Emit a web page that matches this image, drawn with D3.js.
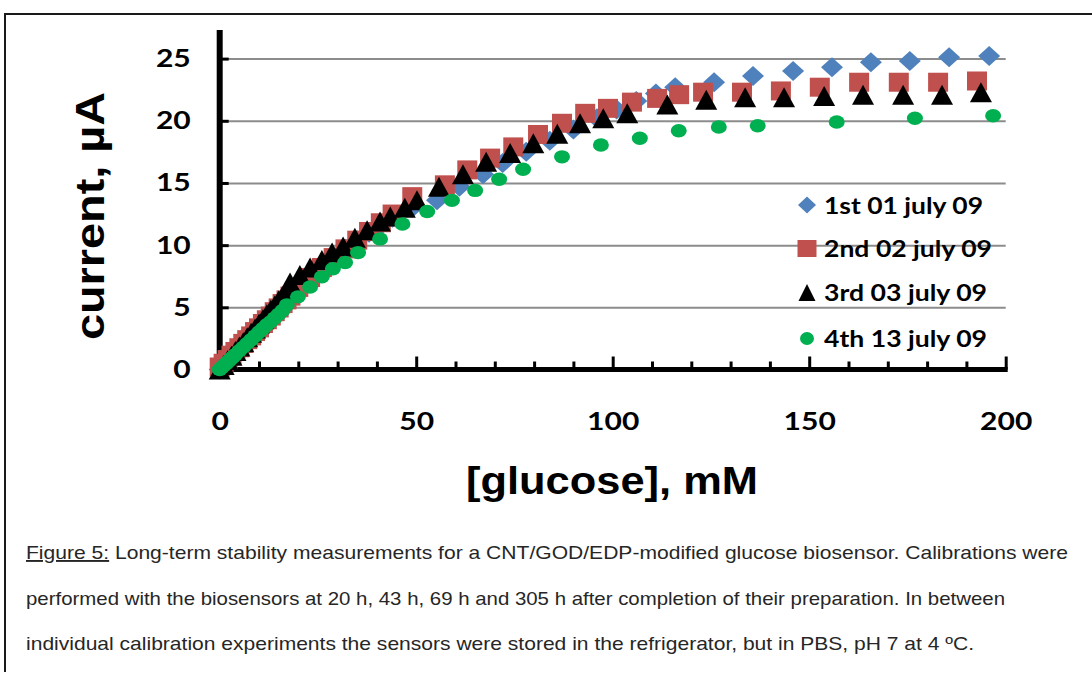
<!DOCTYPE html>
<html><head><meta charset="utf-8">
<script src="https://cdn.jsdelivr.net/npm/d3@7"></script>
<style>
html,body{margin:0;padding:0;background:#fff;}
svg{display:block;}
</style></head><body>
<svg id="chart" width="1092" height="675"></svg>
<script>
// Calibration runs: [glucose mM, current µA]
const seriesNames = ["1st 01 july 09", "2nd 02 july 09", "3rd 03 july 09", "4th 13 july 09"];
const xTicks = [0, 50, 100, 150, 200];
const yTicks = [0, 5, 10, 15, 20, 25];

const run1 = [[0,0],[1,0.3],[2,0.65],[3,1.0],[4,1.35],[5,1.7],[6,2.05],[7,2.4],[8,2.75],[9,3.05],[10,3.4],[11,3.75],[12,4.1],[13,4.4],[14,4.75],[15,5.1],[16,5.45],[17,5.8],[18,6.1],
  [20.5,6.7],[23,7.5],[26,8.3],[29,9.0],[32,9.7],[35,10.4],[38,11.0],[41,11.6],[44,12.2],[49,13.0],[55.3,13.6],[61,14.7],[67,15.7],[72,16.6],[78,17.5],[84,18.4],[90,19.3],[96,20.2],[101,20.9],[106,21.6],[111,22.2],[115.9,22.7],
  [125.8,23.1],[135.7,23.6],[145.9,24.0],[155.8,24.3],[165.7,24.7],[175.6,24.8],[185.6,25.1],[195.8,25.2]];

const run2 = [[0,0.2],[1,0.5],[2,0.8],[3,1.15],[4,1.45],[5,1.75],[6,2.1],[7,2.4],[8,2.7],[9,3.05],[10,3.35],[11,3.7],[12,4.0],[13,4.3],[14,4.65],[15,4.95],[16,5.3],[17,5.6],[18,5.9],
  [20,6.6],[23,7.4],[26,8.2],[29,9.0],[32,9.7],[35,10.4],[38,11.1],[41,11.8],[44,12.5],[49,13.9],[57.3,14.85],[63,16.05],[68.8,17.0],[74.7,17.9],[81,18.9],[87.1,19.8],[93,20.6],[98.8,21.0],[104.9,21.5],[111.3,21.8],[116.9,22.1],
  [123,22.3],[132.9,22.3],[142.8,22.4],[152.7,22.7],[162.7,23.1],[172.8,23.1],[182.8,23.1],[192.7,23.2]];

const run3 = [[0,0],[1,0.37],[2,0.74],[3,1.1],[4,1.48],[5,1.85],[6,2.2],[7,2.6],[8,2.95],[9,3.3],[10,3.7],[11,4.05],[12,4.45],[13,4.8],[14,5.15],[15,5.55],[16,5.9],[17,6.3],
  [17.9,7.0],[20.4,7.6],[23,8.2],[26,8.8],[28.6,9.4],[31.4,9.9],[34.4,10.6],[37.5,11.2],[40.8,11.9],[43.4,12.3],[47.1,13.0],[50.2,13.6],[55.8,14.7],[61.9,15.7],[67.8,16.7],[73.9,17.4],[79.8,18.2],[85.9,18.95],[91.7,19.8],[97.6,20.2],[103.7,20.6],[113.9,21.3],
  [123.8,21.7],[133.7,21.9],[143.6,21.9],[153.8,22.0],[163.7,22.1],[173.9,22.1],[183.8,22.1],[193.7,22.3]];

const run4 = [[0,0],[0.5,0.15],[1,0.3],[1.5,0.45],[2,0.6],[2.5,0.75],[3,0.9],[3.5,1.05],[4,1.2],[5,1.5],[6,1.8],[7,2.1],[8,2.4],[9,2.7],[10,3.0],[11,3.3],[12,3.6],[13,3.85],[14,4.15],[15,4.45],[16,4.75],[17.1,5.2],
  [19.9,5.84],[23,6.64],[26,7.45],[28.8,8.1],[31.9,8.6],[35.2,9.4],[40.8,10.5],[46.5,11.7],[52.8,12.7],[59.1,13.6],[65,14.4],[71.1,15.3],[77.2,16.1],[87.1,17.1],[97,18.05],[106.9,18.6],[116.8,19.2],
  [127,19.5],[136.9,19.6],[157,19.9],[176.9,20.2],[196.8,20.4]];

const captionLines = [
  "Long-term stability measurements for a CNT/GOD/EDP-modified glucose biosensor. Calibrations were",
  "performed with the biosensors at 20 h, 43 h, 69 h and 305 h after completion of their preparation. In between",
  "individual calibration experiments the sensors were stored in the refrigerator, but in PBS, pH 7 at 4 ºC."
];

const svg = d3.select("#chart");
const x = d3.scaleLinear().domain([0, 200]).range([219.7, 1005.7]);
const y = d3.scaleLinear().domain([0, 27.3]).range([369.5, 30]);

// set a text element to an exact rendered width
function fitWidth(sel, width) {
  sel.each(function () {
    if (this.getComputedTextLength() > 0) {
      this.setAttribute("textLength", width);
      this.setAttribute("lengthAdjust", "spacingAndGlyphs");
    }
  });
}
// widen a text element by a factor
function stretch(sel, k) {
  sel.each(function () {
    const w = this.getComputedTextLength();
    if (w > 0) { this.setAttribute("textLength", w * k); this.setAttribute("lengthAdjust", "spacingAndGlyphs"); }
  });
}

// page frame
svg.append("path").attr("d", "M5,672V14H1092").attr("fill", "none").attr("stroke", "#1a1a1a").attr("stroke-width", 2);

// gridlines
svg.append("g").attr("transform", `translate(${x(0)},0)`)
  .call(d3.axisLeft(y).tickValues(yTicks.slice(1)).tickSize(-(x(200) - x(0))).tickFormat(""))
  .call(g => g.select(".domain").remove())
  .call(g => g.selectAll("line").attr("stroke", "#8c8c8c").attr("stroke-width", 2));

// x axis: minor + major inward ticks, labels
const xAxisG = svg.append("g").attr("transform", `translate(0,${y(0)})`);
xAxisG.append("g")
  .call(d3.axisBottom(x).tickValues(d3.range(10, 200, 10).filter(v => v % 50 !== 0)).tickSizeInner(-8).tickSizeOuter(0).tickFormat(""))
  .call(g => g.select(".domain").remove())
  .call(g => g.selectAll("line").attr("stroke", "#000").attr("stroke-width", 3));
xAxisG.append("g")
  .call(d3.axisBottom(x).tickValues(xTicks).tickSizeInner(-13).tickSizeOuter(0).tickPadding(43).tickFormat(d3.format("d")))
  .call(g => g.select(".domain").attr("stroke", "#000").attr("stroke-width", 5).attr("d", `M${x(0) - 3},0H${x(200) + 2}`))
  .call(g => g.selectAll("line").attr("stroke", "#000").attr("stroke-width", 3))
  .call(g => g.selectAll("text").attr("fill", "#000").attr("font-family", "Lato, 'Open Sans', sans-serif")
    .attr("font-weight", 700).attr("font-size", 25));
stretch(xAxisG.selectAll("text"), 1.2);

// y axis
const yAxisG = svg.append("g").attr("transform", `translate(${x(0)},0)`)
  .call(d3.axisLeft(y).tickValues(yTicks).tickSizeInner(-9).tickSizeOuter(0).tickPadding(29).tickFormat(d3.format("d")))
  .call(g => g.select(".domain").attr("stroke", "#000").attr("stroke-width", 6).attr("d", `M0,${y(27.3)}V${y(0) + 2.5}`))
  .call(g => g.selectAll("line").attr("stroke", "#000").attr("stroke-width", 3))
  .call(g => g.selectAll("text").attr("fill", "#000").attr("font-family", "Lato, 'Open Sans', sans-serif")
    .attr("font-weight", 700).attr("font-size", 25));
stretch(yAxisG.selectAll("text"), 1.2);

// marker shapes, centred at the origin
const shapes = {
  diamond: s => `M0,${-s.h}L${s.w},0L0,${s.h}L${-s.w},0Z`,
  square: s => `M${-s.w},${-s.h}H${s.w}V${s.h}H${-s.w}Z`,
  triangle: s => `M0,${-s.h}L${s.w},${s.h}L${-s.w},${s.h}Z`,
  ellipse: s => `M${s.w},0A${s.w},${s.h} 0 1,1 ${-s.w},0A${s.w},${s.h} 0 1,1 ${s.w},0Z`
};
const runs = [
  { data: run1, shape: "diamond", size: { w: 11, h: 10 }, color: "#4f81bd", leg: { w: 9, h: 8.5 } },
  { data: run2, shape: "square", size: { w: 10, h: 9.5 }, color: "#c0504d", leg: { w: 9.5, h: 8.5 } },
  { data: run3, shape: "triangle", size: { w: 11, h: 10 }, color: "#000000", leg: { w: 8.5, h: 8.5 } },
  { data: run4, shape: "ellipse", size: { w: 8, h: 6.7 }, color: "#00b050", leg: { w: 7, h: 6.5 } }
];

const plot = svg.append("g");
runs.forEach(r => {
  plot.append("g").selectAll("path").data(r.data).join("path")
    .attr("d", shapes[r.shape](r.size))
    .attr("transform", d => `translate(${x(d[0])},${y(d[1])})`)
    .attr("fill", r.color);
});

// legend
const legendRows = [205, 248.5, 292.5, 338.5];
const legendTextEnd = [983, 992, 987, 987];
const legend = svg.append("g");
runs.forEach((r, i) => {
  legend.append("path").attr("d", shapes[r.shape](r.leg))
    .attr("transform", `translate(807,${legendRows[i]})`).attr("fill", r.color);
  const t = legend.append("text").attr("x", 824).attr("y", legendRows[i] + 8.5)
    .attr("font-family", "Lato, 'Open Sans', sans-serif").attr("font-weight", 700).attr("font-size", 22)
    .attr("fill", "#000").text(seriesNames[i]);
  fitWidth(t, legendTextEnd[i] - 824);
});

// axis titles
const yTitle = svg.append("text").attr("transform", "translate(104,216) rotate(-90)")
  .attr("text-anchor", "middle").attr("font-family", "'Liberation Sans', Arial, sans-serif")
  .attr("font-weight", 700).attr("font-size", 41).attr("fill", "#000").text("current, µA");
fitWidth(yTitle, 248);
const xTitle = svg.append("text").attr("x", 612).attr("y", 494)
  .attr("text-anchor", "middle").attr("font-family", "'Liberation Sans', Arial, sans-serif")
  .attr("font-weight", 700).attr("font-size", 39).attr("fill", "#000").text("[glucose], mM");
fitWidth(xTitle, 292);

// caption
const capY = [559, 605, 650];
const capEnd = [1068, 1005, 974];
captionLines.forEach((line, i) => {
  const t = svg.append("text").attr("x", 26).attr("y", capY[i])
    .attr("font-family", "'Liberation Sans', Arial, sans-serif").attr("font-size", 19).attr("fill", "#262626");
  if (i === 0) {
    t.append("tspan").attr("text-decoration", "underline").text("Figure 5:");
    t.append("tspan").text(" " + line);
  } else {
    t.text(line);
  }
  fitWidth(t, capEnd[i] - 26);
});
</script>
</body></html>
